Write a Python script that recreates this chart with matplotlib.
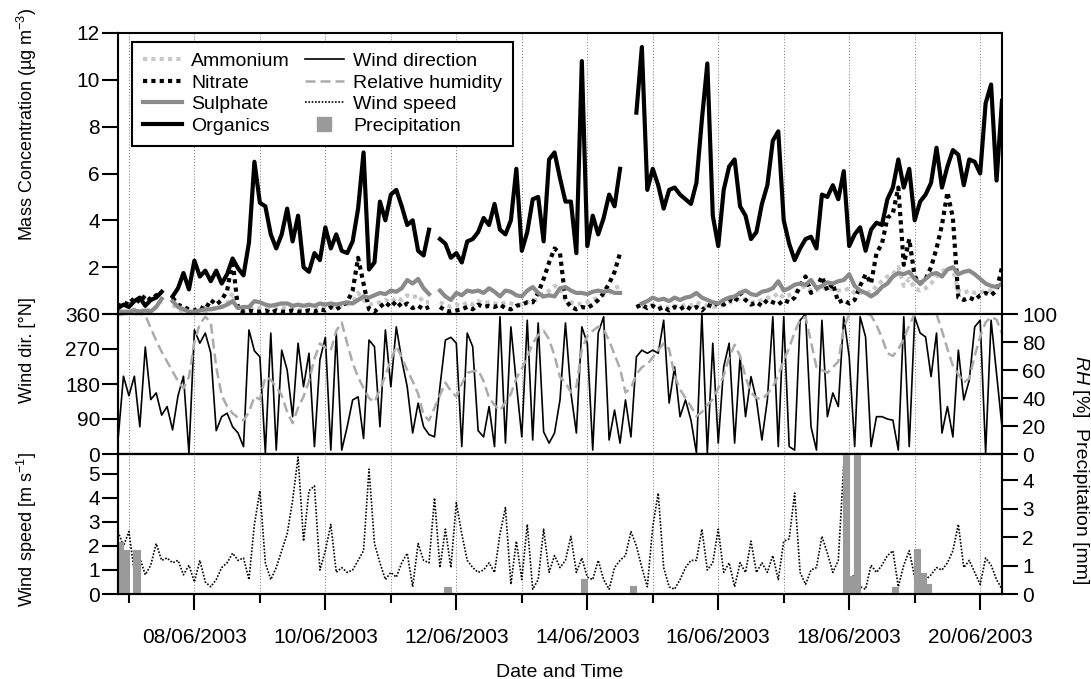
import numpy as np
import pandas as pd
import matplotlib
matplotlib.use('Agg')
import matplotlib.pyplot as plt
import matplotlib.dates as mdates
from matplotlib.lines import Line2D

nan = np.nan
# 2-hourly samples from 06/06/2003 20:00 to 20/06/2003 08:00
times = pd.date_range('2003-06-06 20:00', periods=163, freq='2h')

organics = [
    0.25, 0.4, 0.3, 0.55, 0.7, 0.35, 0.6, 0.7, 0.95, nan, 0.75, 1.1,
    1.75, 1.05, 2.28, 1.6, 1.85, 1.4, 1.85, 1.3, 1.7, 2.37, 1.95, 1.65,
    3.05, 6.5, 4.75, 4.6, 3.4, 2.8, 3.4, 4.5, 3.1, 4.2, 2.0, 1.8,
    2.6, 2.3, 3.7, 2.8, 3.4, 2.7, 2.6, 3.1, 4.5, 6.9, 1.9, 2.2,
    4.8, 4.0, 5.1, 5.3, 4.6, 3.8, 4.0, 2.7, 2.5, 3.6, nan, 3.2,
    3.0, 2.4, 2.6, 2.2, 3.1, 3.2, 3.5, 4.1, 3.8, 4.7, 3.6, 3.4,
    4.0, 6.2, 2.7, 3.5, 4.9, 5.0, 3.1, 6.6, 6.9, 5.8, 4.8, 4.8,
    2.6, 10.8, 2.9, 4.2, 3.4, 4.1, 5.1, 4.6, 6.2, nan, nan, 8.6,
    11.4, 5.3, 6.2, 5.5, 4.5, 5.3, 5.4, 5.1, 4.9, 4.7, 5.6, 8.3,
    10.7, 4.2, 2.9, 5.3, 6.3, 6.6, 4.6, 4.2, 3.2, 3.5, 4.7, 5.5,
    7.4, 7.8, 4.0, 3.0, 2.3, 2.8, 3.2, 3.3, 2.8, 5.1, 5.0, 5.5,
    4.9, 6.1, 2.9, 3.4, 3.7, 2.7, 3.6, 3.9, 3.8, 4.9, 5.4, 6.6,
    5.4, 6.2, 4.0, 4.8, 5.1, 5.6, 7.1, 5.4, 6.3, 7.0, 6.8, 5.5,
    6.6, 6.5, 6.0, 9.0, 9.8, 5.7, 9.1]

nitrate = [
    0.3, 0.5, 0.4, 0.7, 0.5, 0.8, 0.6, 0.8, 0.9, nan, 0.7, 0.4,
    0.3, 0.2, 0.15, 0.3, 0.2, 0.6, 0.4, 0.6, 1.0, 2.3, 0.2, 0.1,
    0.15, 0.1, 0.1, 0.15, 0.05, 0.15, 0.1, 0.1, 0.15, 0.1, 0.1, 0.15,
    0.1, 0.2, 0.15, 0.3, 0.2, 0.35, 0.5, 1.0, 2.4, 1.3, 0.2, 0.1,
    0.3, 0.5, 0.3, 0.55, 0.3, 0.45, 0.25, 0.35, 0.2, 0.3, nan, 0.3,
    0.15, 0.1, 0.15, 0.2, 0.3, 0.2, 0.4, 0.3, 0.35, 0.3, 0.4, 0.25,
    0.2, 0.35, 0.4, 0.5, 0.5, 0.9, 1.5, 2.2, 2.8, 2.6, 0.6, 0.3,
    0.2, 0.3, 0.25, 0.4, 0.6, 0.9, 1.3, 1.8, 2.6, nan, nan, 0.3,
    0.4, 0.25, 0.35, 0.2, 0.3, 0.15, 0.3, 0.2, 0.35, 0.2, 0.3, 0.15,
    0.4, 0.3, 0.5, 0.4, 0.6, 0.5, 0.9, 0.6, 0.4, 0.5, 0.35, 0.6,
    0.5, 0.4, 0.6, 0.5, 0.7, 1.2, 1.6, 0.9, 1.1, 1.6, 1.0, 1.3,
    0.5, 0.6, 0.45, 0.6, 1.2, 1.7, 1.3, 2.6, 3.0, 4.1, 4.3, 5.4,
    2.1, 3.2, 1.6, 1.3, 1.5, 2.0, 2.8, 3.8, 5.2, 4.1, 0.7, 0.6,
    0.7, 0.6, 0.8, 0.9, 0.8, 1.0, 2.0]

sulphate = [
    0.1, 0.1, 0.1, 0.15, 0.1, 0.15, 0.1, 0.3, 0.65, nan, 0.55, 0.3,
    0.2, 0.1, 0.1, 0.15, 0.2, 0.2, 0.25, 0.3, 0.4, 0.55, 0.25, 0.3,
    0.3, 0.55, 0.5, 0.4, 0.35, 0.4, 0.45, 0.45, 0.35, 0.4, 0.35, 0.4,
    0.35, 0.45, 0.4, 0.45, 0.4, 0.45, 0.5, 0.45, 0.6, 0.75, 0.7, 0.8,
    0.9, 0.85, 1.0, 0.95, 1.1, 1.45, 1.3, 1.5, 1.1, 0.85, nan, 1.0,
    0.75, 0.6, 0.9, 0.8, 1.0, 0.95, 1.0, 0.9, 1.1, 0.95, 0.75, 1.0,
    0.95, 0.8, 0.75, 1.0, 1.15, 0.9, 0.75, 0.8, 0.75, 1.1, 1.15, 1.0,
    0.9, 0.9, 0.85, 0.95, 1.0, 0.95, 1.0, 0.9, 0.9, nan, nan, nan,
    0.45, 0.55, 0.7, 0.6, 0.65, 0.55, 0.7, 0.6, 0.7, 0.75, 0.9, 0.7,
    0.6, 0.5, 0.45, 0.6, 0.7, 0.75, 0.9, 1.0, 0.85, 0.8, 0.95, 1.0,
    1.1, 1.4, 1.0, 1.1, 1.25, 1.3, 1.25, 1.45, 1.1, 1.2, 1.35, 1.3,
    1.4, 1.45, 1.7, 1.2, 1.0, 0.9, 0.75, 0.9, 1.15, 1.3, 1.6, 1.75,
    1.7, 1.8, 1.5, 1.3, 1.5, 1.7, 1.75, 1.6, 1.9, 2.0, 1.7, 1.8,
    1.85, 1.7, 1.5, 1.3, 1.2, 1.15, 1.3]

ammonium = [
    0.05, -0.1, 0.1, 0.2, 0.1, 0.2, 0.15, 0.3, 0.5, nan, 0.4, 0.2,
    0.1, 0.05, 0.1, 0.15, 0.1, 0.2, 0.25, 0.3, 0.45, 0.9, 0.2, 0.15,
    0.2, 0.3, 0.25, 0.2, 0.2, 0.25, 0.3, 0.2, 0.25, 0.2, 0.15, 0.2,
    0.25, 0.2, 0.3, 0.25, 0.3, 0.35, 0.4, 0.5, 0.9, 0.6, 0.4, 0.45,
    0.5, 0.6, 0.5, 0.7, 0.6, 0.8, 0.7, 0.8, 0.5, 0.5, nan, 0.5,
    0.4, 0.3, 0.4, 0.35, 0.5, 0.4, 0.55, 0.45, 0.5, 0.45, 0.4, 0.5,
    0.45, 0.4, 0.4, 0.5, 0.6, 0.6, 0.8, 1.0, 1.2, 1.1, 0.6, 0.5,
    0.4, 0.45, 0.5, 0.6, 0.7, 0.8, 0.9, 1.1, 1.2, nan, nan, nan,
    0.3, 0.35, 0.4, 0.3, 0.35, 0.25, 0.35, 0.3, 0.4, 0.35, 0.5, 0.4,
    0.35, 0.3, 0.3, 0.4, 0.5, 0.5, 0.7, 0.6, 0.5, 0.5, 0.6, 0.7,
    0.7, 0.9, 0.7, 0.8, 0.9, 1.1, 1.2, 1.0, 1.0, 1.2, 1.0, 1.1,
    1.0, 1.0, 1.1, 0.9, 0.9, 1.0, 0.9, 1.2, 1.4, 1.6, 1.7, 2.0,
    1.2, 1.5, 1.1, 1.0, 1.1, 1.3, 1.6, 1.8, 2.0, 1.9, 1.0, 0.9,
    1.0, 0.9, 0.9, 1.0, 1.0, 1.1, 1.5]

wind_dir = [
    36, 200, 150, 200, 70, 275, 140, 157, 100, 122, 62, 150,
    200, 2, 319, 285, 311, 260, 60, 96, 105, 70, 54, 19,
    319, 265, 250, 3, 311, 10, 267, 216, 96, 285, 173, 259,
    19, 242, 300, 10, 311, 10, 70, 139, 147, 40, 293, 276,
    70, 319, 173, 327, 242, 173, 54, 131, 70, 50, 44, 173,
    293, 300, 285, 19, 311, 276, 60, 44, 122, 19, 353, 28,
    327, 182, 44, 344, 36, 337, 57, 28, 54, 139, 337, 157,
    54, 327, 285, 10, 311, 353, 36, 113, 28, 139, 44, 250,
    267, 259, 267, 259, 344, 131, 224, 96, 139, 87, 3, 360,
    3, 285, 28, 224, 285, 28, 250, 96, 199, 139, 36, 139,
    353, 19, 353, 19, 10, 344, 360, 70, 10, 344, 96, 157,
    122, 353, 250, 19, 353, 301, 19, 96, 96, 90, 87, 10,
    353, 19, 353, 311, 301, 199, 311, 54, 122, 44, 267, 139,
    190, 327, 344, 3, 344, 207, 70]

rel_humidity = [
    99, 100, 100, 100, 100, 99, 90, 81, 73, 66, 59, 52,
    47, 55, 80, 93, 98, 94, 62, 42, 34, 29, 26, 24,
    30, 41, 39, 55, 53, 48, 42, 30, 22, 33, 41, 52,
    68, 79, 76, 74, 88, 94, 79, 65, 55, 47, 40, 37,
    46, 56, 67, 77, 69, 60, 52, 43, 28, 24, 33, 42,
    51, 45, 41, 50, 58, 59, 60, 52, 40, 35, 31, 37,
    43, 54, 61, 69, 79, 85, 88, 82, 70, 55, 51, 44,
    48, 75, 84, 88, 91, 89, 81, 71, 61, 44, 47, 57,
    62, 64, 69, 74, 79, 75, 56, 46, 40, 34, 27, 30,
    35, 39, 47, 56, 69, 78, 70, 55, 44, 40, 39, 43,
    48, 56, 67, 76, 87, 96, 98, 80, 62, 60, 58, 62,
    66, 90, 100, 100, 100, 100, 99, 92, 83, 72, 70, 75,
    82, 92, 100, 100, 100, 100, 100, 88, 75, 63, 57, 51,
    54, 70, 84, 94, 98, 96, 86]

wind_speed = [
    2.6, 2.0, 2.6, 0.9, 1.5, 0.8, 1.2, 2.1, 1.4, 1.5, 1.3, 1.4,
    0.8, 1.2, 0.5, 1.4, 0.5, 0.3, 0.6, 1.1, 1.3, 1.7, 1.4, 1.5,
    0.6, 2.9, 4.3, 1.3, 0.6, 1.1, 1.8, 2.5, 3.9, 5.7, 2.2, 4.3,
    4.5, 1.0, 1.8, 2.9, 0.9, 1.1, 0.9, 1.0, 1.4, 1.8, 5.2, 2.1,
    1.3, 0.6, 0.9, 0.7, 1.3, 1.7, 0.3, 2.1, 1.4, 1.3, 4.0, 1.1,
    2.7, 1.1, 3.8, 2.5, 1.4, 1.1, 0.9, 1.0, 1.3, 0.9, 2.5, 3.6,
    0.4, 2.2, 0.6, 2.9, 0.2, 0.6, 2.7, 0.9, 1.6, 1.1, 1.4, 2.4,
    0.9, 1.5, 0.7, 0.6, 1.4, 0.6, 0.2, 1.1, 1.4, 1.6, 2.6, 2.0,
    1.1, 0.3, 2.8, 4.2, 1.1, 0.3, 0.2, 0.6, 1.1, 1.4, 1.4, 2.7,
    1.0, 1.3, 2.7, 0.9, 1.3, 0.3, 1.3, 0.9, 2.2, 0.9, 1.3, 0.9,
    1.6, 0.6, 2.2, 2.3, 4.2, 0.9, 0.4, 1.0, 1.1, 2.4, 1.7, 0.9,
    1.4, 5.4, 0.6, 0.8, 0.3, 0.2, 1.2, 0.9, 1.2, 1.6, 1.8, 0.3,
    1.2, 1.8, 0.7, 0.5, 0.6, 0.8, 1.1, 1.0, 1.3, 1.8, 2.9, 1.1,
    1.4, 0.9, 0.4, 1.5, 1.2, 0.6, 0.2]

precipitation = [
    1.8, 1.5, 0, 1.5, 0, 0, 0, 0, 0, 0, 0, 0,
    0, 0, 0, 0, 0, 0, 0, 0, 0, 0, 0, 0,
    0, 0, 0, 0, 0, 0, 0, 0, 0, 0, 0, 0,
    0, 0, 0, 0, 0, 0, 0, 0, 0, 0, 0, 0,
    0, 0, 0, 0, 0, 0, 0, 0, 0, 0, 0, 0,
    0.2, 0, 0, 0, 0, 0, 0, 0, 0, 0, 0, 0,
    0, 0, 0, 0, 0, 0, 0, 0, 0, 0, 0, 0,
    0, 0.5, 0, 0, 0, 0, 0, 0, 0, 0, 0.25, 0,
    0, 0, 0, 0, 0, 0, 0, 0, 0, 0, 0, 0,
    0, 0, 0, 0, 0, 0, 0, 0, 0, 0, 0, 0,
    0, 0, 0, 0, 0, 0, 0, 0, 0, 0, 0, 0,
    0, 5.0, 0.6, 5.0, 0, 0, 0, 0, 0, 0, 0.2, 0,
    0, 0, 1.55, 0.7, 0.3, 0, 0, 0, 0, 0, 0, 0,
    0, 0, 0, 0, 0, 0, 0]

for name, arr in [('organics', organics), ('nitrate', nitrate), ('sulphate', sulphate),
                  ('ammonium', ammonium), ('wind_dir', wind_dir), ('rh', rel_humidity),
                  ('wind_speed', wind_speed), ('precip', precipitation)]:
    assert len(arr) == len(times), (name, len(arr))

mass_ticks = [0, 2, 4, 6, 8, 10, 12]
dir_ticks = [0, 90, 180, 270, 360]
rh_ticks = [0, 20, 40, 60, 80, 100]
ws_ticks = [0, 1, 2, 3, 4, 5]
pr_ticks = [0, 1, 2, 3, 4]

# ---------------------------------------------------------------- style
plt.rcParams['font.family'] = ['Liberation Sans', 'DejaVu Sans']
plt.rcParams['mathtext.fontset'] = 'custom'
plt.rcParams['mathtext.rm'] = 'Liberation Sans'
plt.rcParams['mathtext.it'] = 'Liberation Sans:italic'

C_AMM = '#c8c8c8'
C_SUL = '#8a8a8a'
C_RH = '#ababab'
C_PR = '#9a9a9a'
FS_TICK = 15
FS_LAB = 13

x = mdates.date2num(times.to_pydatetime())
step = 2 / 24.0

W, H = 1091, 679
fig = plt.figure(figsize=(W / 100, H / 100), dpi=100)
L, R = 118 / W, 1002 / W


def fy(p):
    return 1 - p / H


ax1 = fig.add_axes([L, fy(314), R - L, fy(33) - fy(314)])
ax2 = fig.add_axes([L, fy(454), R - L, fy(314) - fy(454)], sharex=ax1)
ax3 = fig.add_axes([L, fy(594), R - L, fy(454) - fy(594)], sharex=ax1)
ax2r = ax2.twinx()
ax3r = ax3.twinx()

dots = (0, (1, 1))
# top panel
ax1.plot(x, ammonium, color=C_AMM, lw=3, ls=dots)
ax1.plot(x, nitrate, color='black', lw=3, ls=dots)
ax1.plot(x, sulphate, color=C_SUL, lw=3)
ax1.plot(x, organics, color='black', lw=3)
ax1.set_ylim(0, 12)
ax1.set_yticks(mass_ticks)
ax1.set_yticklabels([''] + [str(v) for v in mass_ticks[1:]])

# middle panel
ax2.plot(x, wind_dir, color='black', lw=1.2)
ax2.set_ylim(0, 360)
ax2.set_yticks(dir_ticks)
ax2r.plot(x, rel_humidity, color=C_RH, lw=1.8, ls=(0, (4, 2)))
ax2r.set_ylim(0, 100)
ax2r.set_yticks(rh_ticks)

# bottom panel
ax3.plot(x, wind_speed, color='black', lw=1.2, ls=dots)
ax3.set_ylim(0, 5.83)
ax3.set_yticks(ws_ticks)
ax3r.bar(x, precipitation, width=step, align='edge', color=C_PR,
         edgecolor=C_PR, linewidth=1.5)
ax3r.set_ylim(0, 4.92)
ax3r.set_yticks(pr_ticks)

x0 = mdates.date2num(pd.Timestamp('2003-06-06 20:00').to_pydatetime())
x1 = mdates.date2num(pd.Timestamp('2003-06-20 08:00').to_pydatetime())
ax1.set_xlim(x0, x1)

for ax in (ax1, ax2, ax3):
    ax.xaxis.set_major_locator(mdates.DayLocator(bymonthday=range(2, 32, 2)))
    ax.xaxis.set_minor_locator(mdates.DayLocator())
    ax.grid(True, which='both', axis='x', color='#777777', lw=0.7, ls=(0, (1, 2)))
    ax.tick_params(axis='y', direction='out', length=11.5, width=1.5,
                   labelsize=FS_TICK, pad=1.5)
for ax in (ax2r, ax3r):
    ax.tick_params(axis='y', direction='out', length=11.5, width=1.5,
                   labelsize=FS_TICK, pad=3)
for ax in (ax1, ax2, ax3, ax2r, ax3r):
    for s in ax.spines.values():
        s.set_linewidth(1.5)

ax1.tick_params(axis='x', which='both', length=0, labelbottom=False)
ax2.tick_params(axis='x', which='both', length=0, labelbottom=False)
ax3.xaxis.set_major_formatter(mdates.DateFormatter('%d/%m/%Y'))
ax3.tick_params(axis='x', which='major', direction='out', length=11.5, width=1.5,
                labelsize=FS_TICK, pad=13)
ax3.tick_params(axis='x', which='minor', direction='out', length=6.5, width=1.5)

# axis labels
ax3.set_xlabel('Date and Time', fontsize=14)
ax3.xaxis.set_label_coords(0.5, -0.56)
ax3.xaxis.label.set_va('center')

lab_x = (27 - 118) / 884
ax1.set_ylabel(r'Mass Concentration (µg m$^{\mathregular{-3}}$)', fontsize=FS_LAB)
ax1.yaxis.set_label_coords(lab_x, (314 - 124) / 281)
ax2.set_ylabel('Wind dir. [°N]', fontsize=FS_LAB)
ax2.yaxis.set_label_coords(lab_x, (454 - 350) / 140)
ax3.set_ylabel(r'Wind speed [m s$^{\mathregular{-1}}$]', fontsize=FS_LAB)
ax3.yaxis.set_label_coords(lab_x, (594 - 530) / 140)
ax2r.set_ylabel(r'$\mathit{RH}$ [%]', fontsize=14, rotation=270)
ax2r.yaxis.set_label_coords((1081 - 118) / 884, (454 - 386) / 140)
ax3r.set_ylabel('Precipitation [mm]', fontsize=14, rotation=270)
ax3r.yaxis.set_label_coords((1081 - 118) / 884, (594 - 506) / 140)
for lab in (ax1.yaxis.label, ax2.yaxis.label, ax3.yaxis.label,
            ax2r.yaxis.label, ax3r.yaxis.label):
    lab.set_va('center')
    lab.set_ha('center')

# legend
handles = [
    Line2D([], [], color=C_AMM, lw=3, ls=dots),
    Line2D([], [], color='black', lw=3, ls=dots),
    Line2D([], [], color=C_SUL, lw=3),
    Line2D([], [], color='black', lw=3),
    Line2D([], [], color='black', lw=1.2),
    Line2D([], [], color=C_RH, lw=1.8, ls=(0, (4, 2))),
    Line2D([], [], color='black', lw=1.2, ls=dots),
    Line2D([], [], color=C_PR, marker='s', ms=10, ls='none'),
]
labels = ['Ammonium', 'Nitrate', 'Sulphate', 'Organics',
          'Wind direction', 'Relative humidity', 'Wind speed', 'Precipitation']
leg = ax1.legend(handles, labels, ncol=2, loc='upper left',
                 bbox_to_anchor=((132 - 118) / 884, (314 - 42) / 281),
                 borderaxespad=0, fontsize=14, frameon=True, fancybox=False,
                 edgecolor='black', framealpha=1, labelspacing=0.2,
                 handlelength=2.0, handletextpad=0.5, columnspacing=0.75,
                 borderpad=0.55)
leg.get_frame().set_linewidth(1.5)
leg.set_zorder(10)

fig.savefig('out.png', dpi=100)
